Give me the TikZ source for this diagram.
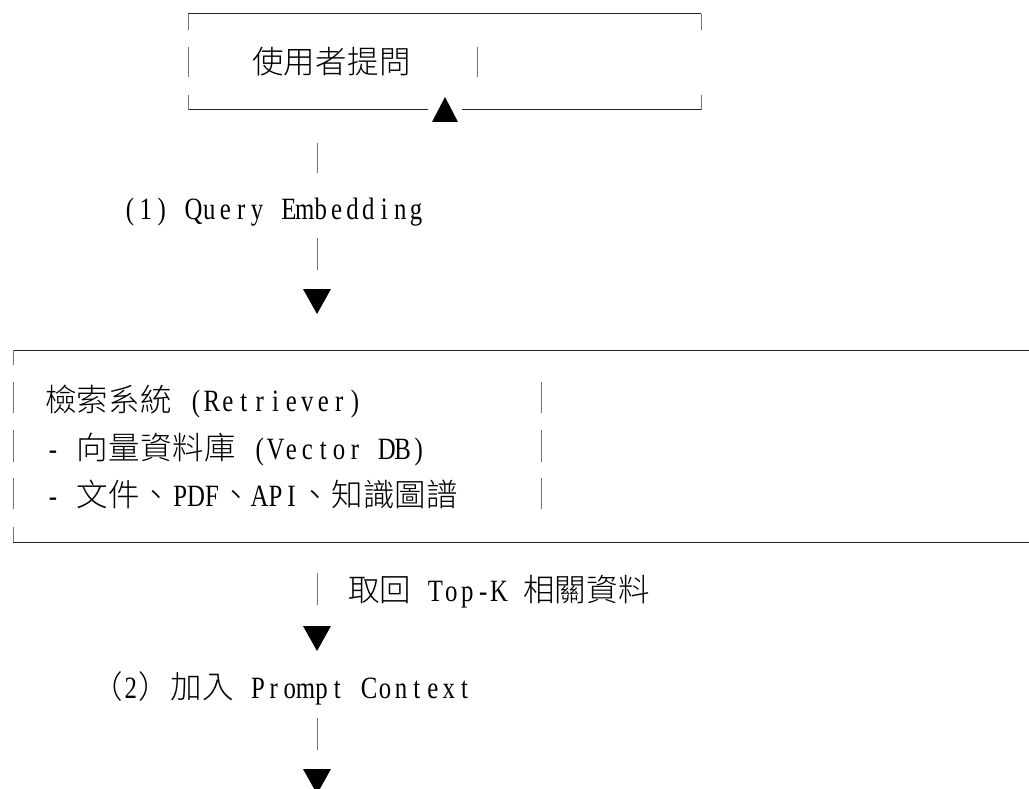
\documentclass[tikz,border=0pt]{standalone}
\usepackage{fontspec}
\newfontfamily\latfam[FakeStretch=0.8]{Liberation Serif}
\newfontfamily\cjkfam{Noto Sans CJK TC}[UprightFont={* Light}]
\newcommand\latfont{\fontsize{31pt}{32pt}\latfam}
\newcommand\cjkfont{\fontsize{31.5pt}{32pt}\cjkfam}
\ExplSyntaxOn
\dim_new:N \l_my_cell_dim
\dim_set:Nn \l_my_cell_dim {15.9pt}
\NewDocumentCommand \mono { m }
  {
    \str_map_inline:nn {#1}
      {
        \tl_if_blank:nTF {##1}
          { \hbox_to_wd:nn { \l_my_cell_dim } { } }
          {
            \int_compare:nNnTF { `##1 } > { 255 }
              { \hbox_to_wd:nn { 2\l_my_cell_dim } { \hss \cjkfont ##1 \hss } }
              { \hbox_to_wd:nn { \l_my_cell_dim } { \hss \latfont ##1 \hss } }
          }
      }
  }
\ExplSyntaxOff
\tikzset{
  hline/.style={draw=black!85, line width=1pt},
  vbar/.style={draw=black!55, line width=1pt},
  txt/.style={anchor=base west, inner sep=0pt, outer sep=0pt},
  downtri/.pic={\fill[black] (-14,0) -- (14,0) -- (0,25) -- cycle;},
  uptri/.pic={\fill[black] (-13,25) -- (13,25) -- (0,0) -- cycle;}
}
\begin{document}
\begin{tikzpicture}[x=1pt,y=-1pt]
\useasboundingbox (0,0) rectangle (1029,789);
\clip (0,0) rectangle (1029,789);
% top box
\draw[hline] (188,14) -- (701,14);
\draw[hline] (188,110) -- (428,110);
\draw[hline] (462,110) -- (701,110);
\draw[vbar] (188,14) -- (188,30);
\draw[vbar] (701,14) -- (701,30);
\draw[vbar] (188,95) -- (188,110);
\draw[vbar] (701,95) -- (701,110);
\draw[vbar] (188,47) -- (188,77);
\draw[vbar] (477,47) -- (477,77);
\node[txt] (ask) at (252,74) {\mono{使用者提問}};
\pic at (445,97) {uptri};
% step 1
\coordinate (a1) at (317,143);
\coordinate (a2) at (317,173);
\draw[vbar] (a1) -- (a2);
\node[txt] (q) at (122,219) {\mono{(1) Query Embedding}};
\coordinate (b1) at (317,238);
\coordinate (b2) at (317,270);
\draw[vbar] (b1) -- (b2);
\pic at (317,289) {downtri};
% retriever box
\draw[hline] (13,350) -- (1029,350);
\draw[hline] (13,542) -- (1029,542);
\foreach \ya/\yb in {350/365,382/413,430/462,478/509,527/542}
  \draw[vbar] (13,\ya) -- (13,\yb);
\foreach \ya/\yb in {382/413,430/462,478/509}
  \draw[vbar] (541,\ya) -- (541,\yb);
\node[txt] (r1) at (45,411) {\mono{檢索系統 (Retriever)}};
\node[txt] (r2) at (45,459) {\mono{- 向量資料庫 (Vector DB)}};
\node[txt] (r3) at (45,506) {\mono{- 文件、PDF、API、知識圖譜}};
% step 2
\coordinate (c1) at (317,573);
\coordinate (c2) at (317,605);
\draw[vbar] (c1) -- (c2);
\node[txt] (top) at (348,601) {\mono{取回 Top-K 相關資料}};
\pic at (317,626) {downtri};
\node[txt] (ctx) at (91,698) {\mono{（2）加入 Prompt Context}};
\coordinate (d1) at (317,718);
\coordinate (d2) at (317,750);
\draw[vbar] (d1) -- (d2);
\pic at (317,769) {downtri};
\end{tikzpicture}
\end{document}
